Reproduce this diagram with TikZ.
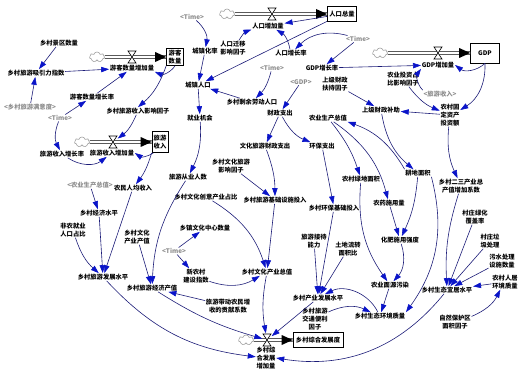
\documentclass[tikz,border=0pt]{standalone}
\usepackage{fontspec}
\newfontfamily\cjk{Noto Sans CJK SC}
\usetikzlibrary{arrows.meta, shapes.symbols}
\definecolor{linkblue}{HTML}{1C1C78}
\definecolor{tipblue}{HTML}{0A14C8}
\definecolor{ghostgray}{HTML}{8C8C8C}
\definecolor{cloudgray}{HTML}{A0A0A0}
\newcommand{\vfont}{\cjk\bfseries\fontsize{6.3}{7.8}\selectfont}
\newcommand{\flowvalve}[1]{\filldraw[fill=white, line width=0.6pt, shift={(#1)}] (-4,-6) -- (4,-6) -- (-4,6) -- (4,6) -- cycle;}
\newcommand{\flowtip}[1]{\fill (#1.west) -- ++(-11,-5) -- ++(0,10) -- cycle;}

\begin{document}
\begin{tikzpicture}[x=1pt, y=-1pt,
  var/.style={font=\vfont, inner sep=0.6pt, align=center},
  ghost/.style={var, text=ghostgray},
  stock/.style={draw, line width=0.7pt, font=\vfont, inner sep=2pt, align=center, fill=white},
  link/.style={draw=linkblue, line width=0.6pt, -{Triangle[length=8pt, width=5.4pt, color=tipblue]}},
  pipe/.style={double, double distance=2.6pt, line width=0.6pt},
  src/.style={cloud, cloud puffs=7, aspect=1.5, draw=cloudgray, line width=0.6pt, minimum width=15pt, minimum height=10pt, inner sep=0pt}]

\useasboundingbox (0,0) rectangle (527,371);

% Stocks
\node[stock, minimum width=29pt, minimum height=15pt] (popT) at (342,14) {人口总量};
\node[stock, minimum width=29pt, minimum height=20pt] (gdp) at (485,53) {GDP};
\node[stock, minimum width=17pt, minimum height=17pt, inner sep=1pt] (tour) at (175,57) {游客\\数量};
\node[stock, minimum width=16pt, minimum height=21pt, inner sep=1pt] (tinc) at (160,142) {旅游\\收入};
\node[stock, minimum width=50pt, minimum height=15pt] (level) at (318,340) {乡村综合发展度};

% Sources
\node[src] (cPop) at (227,14) {};
\node[src] (cGdp) at (380,53) {};
\node[src] (cTour) at (97,57) {};
\node[src] (cInc) at (82,142) {};
\node[src] (cLev) at (246,340) {};

% Pipes
\draw[pipe] (cPop.east) -- (popT.west);
\draw[pipe] (cGdp.east) -- (gdp.west);
\draw[pipe] (cTour.east) -- (tour.west);
\draw[pipe] (cInc.east) -- (tinc.west);
\draw[pipe] (cLev.east) -- (level.west);
\flowtip{popT} \flowtip{gdp} \flowtip{tour} \flowtip{tinc} \flowtip{level}

% Valves
\node[inner sep=0pt, minimum width=9pt, minimum height=13pt] (vPop) at (272,14) {};
\node[inner sep=0pt, minimum width=9pt, minimum height=13pt] (vGdp) at (438,53) {};
\node[inner sep=0pt, minimum width=9pt, minimum height=13pt] (vTour) at (132,57) {};
\node[inner sep=0pt, minimum width=9pt, minimum height=13pt] (vInc) at (113,142) {};
\node[inner sep=0pt, minimum width=9pt, minimum height=13pt] (vLev) at (267,340) {};
\flowvalve{vPop} \flowvalve{vGdp} \flowvalve{vTour} \flowvalve{vInc} \flowvalve{vLev}

% Flow rates
\node[var] (fPop) at (268,26) {人口增加量};
\node[var] (fGdp) at (438,65) {GDP增加量};
\node[var] (fTour) at (132,68) {游客数量增加量};
\node[var] (fInc) at (112,153) {旅游收入增加量};
\node[var] (fLev) at (266,358) {乡村综\\合发展\\增加量};

% Tourism
\node[var] (scen) at (59,43) {乡村景区数量};
\node[var] (attr) at (36,73) {乡村旅游吸引力指数};
\node[var] (tgr) at (92,97) {游客数量增长率};
\node[ghost] (sat) at (30,107) {<乡村旅游满意度>};
\node[ghost] (time1) at (60,118) {<Time>};
\node[var] (incf) at (138,111) {乡村旅游收入影响因子};
\node[var] (igr) at (62,154) {旅游收入增长率};

% Population
\node[ghost] (time2) at (192,17) {<Time>};
\node[var] (urb) at (205,51) {城镇化率};
\node[var] (mig) at (233,48) {人口迁移\\影响因子};
\node[var] (upop) at (198,85) {城镇人口};
\node[var] (rlab) at (252,102) {乡村剩余劳动人口};
\node[var] (jobs) at (200,118) {就业机会};
\node[var] (pgr) at (291,53) {人口增长率};
\node[ghost] (time3) at (358,39) {<Time>};
\node[ghost] (time4) at (272,68) {<Time>};

% Economy
\node[var] (ggr) at (322,68) {GDP增长率};
\node[ghost] (gdpS) at (301,82) {<GDP>};
\node[var] (supf) at (335,84) {上级财政\\扶持因子};
\node[var] (fisc) at (280,113) {财政支出};
\node[var] (subs) at (381,110) {上级财政补助};
\node[var] (agri) at (328,118) {农业生产总值};
\node[var] (invf) at (403,79) {农业投资占\\比影响因子};
\node[ghost] (tincS) at (440,94) {<旅游收入>};
\node[var] (fixed) at (450,115) {农村固\\定资产\\投资额};

% Rural income
\node[ghost] (agriS) at (90,185) {<农业生产总值>};
\node[var] (pinc) at (133,188) {农民人均收入};
\node[var] (econ) at (99,213) {乡村经济水平};
\node[var] (nonag) at (73,230) {非农就业\\人口占比};
\node[var] (cult) at (137,237) {乡村文化\\产业产值};
\node[var] (tlev) at (103,277) {乡村旅游发展水平};
\node[var] (tval) at (152,288) {乡村旅游经济产值};
\node[var] (temp) at (188,177) {旅游从业人数};

% Culture and investment
\node[var] (cultf) at (231,166) {乡村文化旅游\\影响因子};
\node[var] (cfisc) at (265,146) {文化旅游财政支出};
\node[var] (efisc) at (322,146) {环保支出};
\node[var] (cshare) at (206,197) {乡村文化创意产业占比};
\node[var] (tinv) at (275,200) {乡村旅游基础设施投入};
\node[var] (einv) at (334,208) {乡村环保基础投入};
\node[var] (center) at (205,228) {乡镇文化中心数量};
\node[ghost] (time5) at (174,251) {<Time>};
\node[var] (newv) at (196,276) {新农村\\建设指数};
\node[var] (ctot) at (267,272) {乡村文化产业总值};
\node[var] (contr) at (228,306) {旅游带动农民增\\收的贡献系数};
\node[var] (recv) at (314,241) {旅游接待\\能力};
\node[var] (land) at (348,249) {土地流转\\面积比};
\node[var] (indl) at (318,298) {乡村产业发展水平};
\node[var] (trafic) at (315,319) {乡村旅游\\交通便利\\因子};

% Environment
\node[var] (green) at (361,179) {农村绿地面积};
\node[var] (pest) at (389,203) {农药施用量};
\node[var] (ferti) at (400,240) {化肥施用强度};
\node[var] (arable) at (418,173) {耕地面积};
\node[var] (ind23) at (461,186) {乡村二三产业总\\产值增加系数};
\node[var] (cover) at (475,217) {村庄绿化\\覆盖率};
\node[var] (waste) at (490,241) {村庄垃\\圾处理};
\node[var] (sewage) at (502,261) {污水处理\\设施数量};
\node[var] (habit) at (505,282) {农村人居\\环境质量};
\node[var] (protf) at (455,322) {自然保护区\\面积因子};
\node[var] (eco) at (447,290) {乡村生态宜居水平};
\node[var] (npoll) at (390,285) {农业面源污染};
\node[var] (equal) at (380,316) {乡村生态环境质量};

% Links: tourism
\draw[link] (scen) -- (attr);
\draw[link] (sat) -- (attr);
\draw[link] (attr) -- (fTour);
\draw[link] (time1) -- (tgr);
\draw[link] (tgr) -- (fTour);
\draw[link] (tour.south) to[bend left=40] (fTour.south east);
\draw[link] (tour.south west) to[bend left=15] (incf.north);
\draw[link] (time1) to[bend right=25] (igr);
\draw[link] (igr) to[bend right=35] (fInc);
\draw[link] (incf) to[bend left=15] (vInc);
\draw[link] (tinc) to[bend left=35] (fInc.east);
\draw[link] (tinc.south west) to[bend left=10] (pinc);

% Links: population
\draw[link] (time2) to[bend left=30] (urb);
\draw[link] (urb) -- (upop);
\draw[link] (popT) -- (upop);
\draw[link] (popT) -- (fPop);
\draw[link] (mig) to[bend left=20] (fPop);
\draw[link] (pgr) to[bend right=25] (fPop);
\draw[link] (time3) to[bend right=30] (pgr);
\draw[link] (time3) -- (ggr);
\draw[link] (time4) to[bend left=15] (rlab);
\draw[link] (rlab) -- (upop);
\draw[link] (upop) -- (jobs);
\draw[link] (jobs) to[bend left=15] (temp);

% Links: economy
\draw[link] (ggr) -- (fGdp);
\draw[link] (gdp.south) to[bend left=40] (fGdp.east);
\draw[link] (tincS.north west) to[bend left=40] (fGdp.south west);
\draw[link] (gdp.south) to[bend left=30] (fixed);
\draw[link] (invf) to[bend right=15] (fixed);
\draw[link] (fixed) -- (subs);
\draw[link] (fixed) to[bend right=15] (ind23);
\draw[link] (gdpS) -- (fisc);
\draw[link] (supf) -- (subs);
\draw[link] (fisc) -- (cfisc);
\draw[link] (fisc) to[bend right=20] (efisc);
\draw[link] (cfisc) to[bend left=10] (tinv);
\draw[link] (efisc) -- (einv);
\draw[link] (cultf) -- (tinv);

% Links: income and culture
\draw[link] (agriS) -- (econ);
\draw[link] (pinc) -- (tlev);
\draw[link] (econ) -- (tlev);
\draw[link] (nonag) to[bend right=15] (tlev);
\draw[link] (temp) to[bend right=15] (tval);
\draw[link] (cult) -- (tval);
\draw[link] (contr) -- (tval);
\draw[link] (time5) -- (center);
\draw[link] (time5) -- (newv);
\draw[link] (newv) to[bend right=25] (ctot);
\draw[link] (cshare) to[bend left=20] (ctot);
\draw[link] (tinv) -- (ctot);

% Links: into the level flow
\draw[link] (tlev) to[bend right=20] (fLev);
\draw[link] (tval) to[bend right=8] (vLev);
\draw[link] (ctot) to[bend right=10] (vLev);
\draw[link] (indl) -- (vLev);
\draw[link] (eco) to[bend left=30] (fLev.east);

% Links: environment
\draw[link] (recv) -- (indl);
\draw[link] (einv) -- (indl);
\draw[link] (land) -- (indl);
\draw[link] (equal) to[bend right=45] (indl);
\draw[link] (trafic) to[bend left=25] (equal);
\draw[link] (npoll) -- (equal);
\draw[link] (arable.south east) to[bend left=25] (equal.north east);
\draw[link] (ferti) to[bend left=30] (npoll);
\draw[link] (green) to[bend right=20] (npoll);
\draw[link] (pest) -- (ferti);
\draw[link] (arable) to[bend left=10] (ferti);
\draw[link] (subs) to[bend right=20] (arable);
\draw[link] (arable.north west) to[bend right=20] (agri.south east);
\draw[link] (agri) to[bend left=10] (green);
\draw[link] (agri) to[bend left=20] (pest);
\draw[link] (ind23) to[bend right=10] (eco);
\draw[link] (cover) -- (eco);
\draw[link] (waste) -- (eco);
\draw[link] (sewage) -- (eco);
\draw[link] (habit) -- (eco);
\draw[link] (protf) to[bend right=20] (habit);

\end{tikzpicture}
\end{document}
